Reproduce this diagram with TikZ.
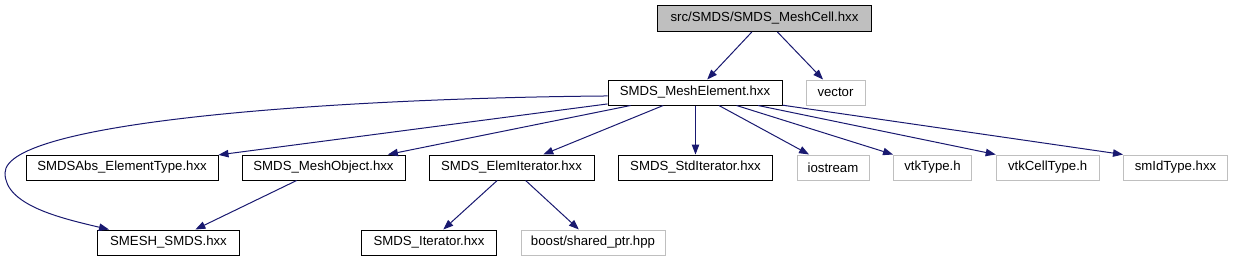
\documentclass[tikz,border=0pt]{standalone}
\usepackage{fontspec}
\setmainfont{Liberation Sans}
\usetikzlibrary{arrows.meta}
\definecolor{edgeblue}{HTML}{191970}
\definecolor{grey75}{HTML}{BFBFBF}
\tikzset{
  box/.style={draw=black, line width=0.75pt, inner sep=0pt, minimum height=18.75pt, font=\fontsize{9.9}{11}\selectfont, text=black, fill=white},
  extbox/.style={box, draw=grey75},
  topbox/.style={box, fill=grey75, minimum height=19.5pt},
  edge/.style={draw=edgeblue, line width=0.75pt, -{Triangle[length=7.5pt,width=5.6pt]}},
}
\begin{document}
\begin{tikzpicture}[x=0.75pt,y=0.75pt]
\useasboundingbox (0,0) rectangle (1233,-261);
\node[topbox, minimum width=160.5pt] (top) at (764.5,-18.5) {src/SMDS/SMDS\_MeshCell.hxx};
\node[box, minimum width=130.5pt] (me) at (695,-92.5) {SMDS\_MeshElement.hxx};
\node[extbox, minimum width=44.25pt] (vec) at (835.5,-92.5) {vector};
\node[box, minimum width=144pt] (abs) at (122,-167.5) {SMDSAbs\_ElementType.hxx};
\node[box, minimum width=122.25pt] (mo) at (323.5,-167.5) {SMDS\_MeshObject.hxx};
\node[box, minimum width=123.75pt] (ei) at (511.5,-167.5) {SMDS\_ElemIterator.hxx};
\node[box, minimum width=115.5pt] (si) at (695.5,-167.5) {SMDS\_StdIterator.hxx};
\node[extbox, minimum width=54pt] (io) at (833,-167.5) {iostream};
\node[extbox, minimum width=58.5pt] (vt) at (932.5,-167.5) {vtkType.h};
\node[extbox, minimum width=77.25pt] (vc) at (1047.7,-167.5) {vtkCellType.h};
\node[extbox, minimum width=78pt] (sm) at (1175.5,-167.5) {smIdType.hxx};
\node[box, minimum width=106.5pt] (ss) at (168.5,-242.5) {SMESH\_SMDS.hxx};
\node[box, minimum width=101.25pt] (it) at (429,-242.5) {SMDS\_Iterator.hxx};
\node[extbox, minimum width=108pt] (bo) at (593,-242.5) {boost/shared\_ptr.hpp};

\draw[edge] (top) -- (me);
\draw[edge] (top) -- (vec);
\draw[edge] ([yshift=-2.6pt]me.west) .. controls (350,-98) and (5,-120) .. (5,-173)
  .. controls (5,-205) and (60,-218) .. ([xshift=9pt]ss.north west);
\draw[edge] (me) -- (abs);
\draw[edge] (me) -- (mo);
\draw[edge] (me) -- (ei);
\draw[edge] (me.south -| si.north) -- (si.north);
\draw[edge] (me) -- (io);
\draw[edge] (me) -- (vt.north west);
\draw[edge] (me) -- (vc.north west);
\draw[edge] (me) -- (sm.north west);
\draw[edge] (mo) -- (ss);
\draw[edge] (ei) -- (it);
\draw[edge] (ei) -- (bo);
\end{tikzpicture}
\end{document}
